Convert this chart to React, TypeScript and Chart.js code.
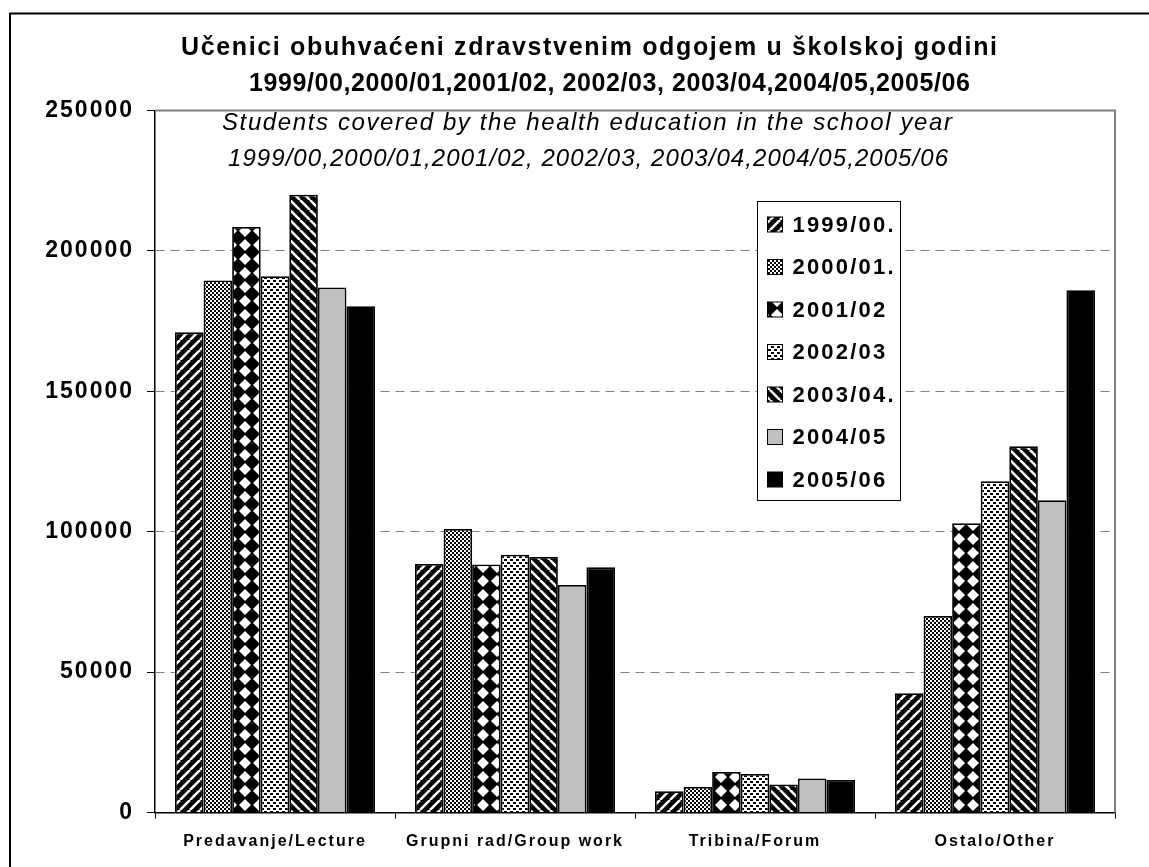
import { useEffect, useRef } from "react";
import { Chart, registerables } from "chart.js";

Chart.register(...registerables);

const categories = ["Predavanje/Lecture", "Grupni rad/Group work", "Tribina/Forum", "Ostalo/Other"];
const seriesLabels = ["1999/00.", "2000/01.", "2001/02", "2002/03", "2003/04.", "2004/05", "2005/06"];
const s1999 = [171000, 88500, 7600, 42500];
const s2000 = [189500, 101000, 9100, 70000];
const s2001 = [208500, 88300, 14400, 103000];
const s2002 = [191000, 91800, 13700, 118000];
const s2003 = [220000, 91000, 10000, 130400];
const s2004 = [187000, 81000, 12100, 111200];
const s2005 = [180300, 87300, 11600, 186000];
const seriesValues = [s1999, s2000, s2001, s2002, s2003, s2004, s2005];
const yMin = 0;
const yMax = 250000;
const yStep = 50000;

const titleLines = [
  "Učenici obuhvaćeni zdravstvenim odgojem u školskoj godini",
  "1999/00,2000/01,2001/02, 2002/03, 2003/04,2004/05,2005/06",
];
const subtitleLines = [
  "Students covered by the health education in the school year",
  "1999/00,2000/01,2001/02, 2002/03, 2003/04,2004/05,2005/06",
];

const FONT = '"Liberation Sans", Arial, sans-serif';

function tile(w: number, h: number, draw: (x: CanvasRenderingContext2D) => void) {
  const c = document.createElement("canvas");
  c.width = w;
  c.height = h;
  const x = c.getContext("2d")!;
  draw(x);
  return c;
}

function makePatterns(ctx: CanvasRenderingContext2D): (CanvasPattern | string)[] {
  const up = tile(10, 10, (x) => {
    x.fillStyle = "#000";
    x.fillRect(0, 0, 10, 10);
    x.strokeStyle = "#fff";
    x.lineWidth = 2.6;
    for (const o of [-10, 0, 10]) {
      x.beginPath();
      x.moveTo(o, 10);
      x.lineTo(o + 10, 0);
      x.stroke();
    }
  });
  const checker = tile(4, 4, (x) => {
    x.fillStyle = "#fff";
    x.fillRect(0, 0, 4, 4);
    x.fillStyle = "#000";
    x.fillRect(0, 0, 2, 2);
    x.fillRect(2, 2, 2, 2);
  });
  const diamond = tile(14, 14, (x) => {
    x.fillStyle = "#000";
    x.fillRect(0, 0, 14, 14);
    x.fillStyle = "#fff";
    x.beginPath();
    x.moveTo(7, 1);
    x.lineTo(13, 7);
    x.lineTo(7, 13);
    x.lineTo(1, 7);
    x.closePath();
    x.fill();
  });
  const dashes = tile(6, 6, (x) => {
    x.fillStyle = "#fff";
    x.fillRect(0, 0, 6, 6);
    x.fillStyle = "#000";
    x.fillRect(0, 1, 3, 2);
    x.fillRect(3, 4, 3, 2);
  });
  const down = tile(10, 10, (x) => {
    x.fillStyle = "#000";
    x.fillRect(0, 0, 10, 10);
    x.strokeStyle = "#fff";
    x.lineWidth = 2.6;
    for (const o of [-10, 0, 10]) {
      x.beginPath();
      x.moveTo(o, 0);
      x.lineTo(o + 10, 10);
      x.stroke();
    }
  });
  return [
    ctx.createPattern(up, "repeat")!,
    ctx.createPattern(checker, "repeat")!,
    ctx.createPattern(diamond, "repeat")!,
    ctx.createPattern(dashes, "repeat")!,
    ctx.createPattern(down, "repeat")!,
    "#C0C0C0",
    "#000000",
  ];
}

function fitText(
  ctx: CanvasRenderingContext2D,
  text: string,
  left: number,
  right: number,
  cy: number,
  font: string
) {
  ctx.font = font;
  (ctx as any).letterSpacing = "0px";
  const w = ctx.measureText(text).width;
  const n = [...text].length;
  const sp = Math.max(0, (right - left - w) / (n - 1));
  (ctx as any).letterSpacing = sp + "px";
  ctx.textAlign = "left";
  ctx.textBaseline = "middle";
  ctx.fillStyle = "#000";
  ctx.fillText(text, left, cy);
}

const decorPlugin = {
  id: "decor",
  beforeDraw(chart: any) {
    const ctx = chart.ctx as CanvasRenderingContext2D;
    ctx.save();
    ctx.fillStyle = "#fff";
    ctx.fillRect(0, 0, chart.width, chart.height);
    ctx.restore();
    (ctx as any).letterSpacing = "2px";
  },
  beforeDatasetsDraw(chart: any) {
    const ctx = chart.ctx as CanvasRenderingContext2D;
    const a = chart.chartArea;
    ctx.save();
    ctx.setLineDash([]);
    ctx.strokeStyle = "#808080";
    ctx.lineWidth = 2;
    ctx.beginPath();
    ctx.moveTo(a.left, a.top);
    ctx.lineTo(a.right, a.top);
    ctx.lineTo(a.right, a.bottom);
    ctx.stroke();
    ctx.restore();
  },
  afterDatasetsDraw(chart: any) {
    const ctx = chart.ctx as CanvasRenderingContext2D;
    ctx.save();
    ctx.setLineDash([]);
    const bx = 757.5, by = 201.5, bw = 143, bh = 299;
    ctx.fillStyle = "#fff";
    ctx.fillRect(bx, by, bw, bh);
    ctx.strokeStyle = "#000";
    ctx.lineWidth = 1;
    ctx.strokeRect(bx, by, bw, bh);
    chart.data.datasets.forEach((ds: any, i: number) => {
      const cy = 224.5 + i * 42.5;
      ctx.fillStyle = ds.backgroundColor;
      ctx.fillRect(767.5, cy - 7.5, 15, 15);
      ctx.strokeStyle = "#000";
      ctx.lineWidth = 1;
      ctx.strokeRect(767.5, cy - 7.5, 15, 15);
      ctx.fillStyle = "#000";
      ctx.font = `bold 22px ${FONT}`;
      (ctx as any).letterSpacing = "2.2px";
      ctx.textAlign = "left";
      ctx.textBaseline = "middle";
      ctx.fillText(ds.label, 792.5, cy + 1);
    });
    ctx.restore();
    (ctx as any).letterSpacing = "2px";
  },
  afterDraw(chart: any) {
    const ctx = chart.ctx as CanvasRenderingContext2D;
    ctx.save();
    fitText(ctx, titleLines[0], 181, 997, 48, `bold 25px ${FONT}`);
    fitText(ctx, titleLines[1], 249, 970, 84, `bold 25px ${FONT}`);
    fitText(ctx, subtitleLines[0], 222, 952, 123, `italic 24px ${FONT}`);
    fitText(ctx, subtitleLines[1], 228, 948, 159, `italic 24px ${FONT}`);
    ctx.setLineDash([]);
    ctx.strokeStyle = "#000";
    ctx.lineWidth = 2;
    ctx.strokeRect(10, 13.5, 1200, 900);
    ctx.restore();
  },
};

export default function App() {
  const ref = useRef<HTMLCanvasElement>(null);
  useEffect(() => {
    const canvas = ref.current!;
    const ctx = canvas.getContext("2d")!;
    const fills = makePatterns(ctx);
    const chart = new Chart(canvas, {
      type: "bar",
      data: {
        labels: categories,
        datasets: seriesValues.map((vals, i) => ({
          label: seriesLabels[i],
          data: vals,
          backgroundColor: fills[i] as any,
          borderColor: "#000",
          borderWidth: 1.8,
          categoryPercentage: 200 / 240,
          barPercentage: 1,
        })),
      },
      options: {
        responsive: false,
        animation: false,
        events: [],
        layout: { padding: { top: 110.5, right: 34, left: 0, bottom: 0 } },
        plugins: {
          legend: { display: false },
          title: { display: false },
          tooltip: { enabled: false },
        },
        scales: {
          x: {
            afterFit: (s: any) => {
              s.height = 54.5;
            },
            grid: {
              display: true,
              drawOnChartArea: false,
              drawTicks: true,
              tickLength: 6,
              tickColor: "#000",
              color: "#000",
              offset: true,
            },
            border: { display: true, color: "#000", width: 1.5 },
            ticks: {
              z: 1,
              autoSkip: false,
              maxRotation: 0,
              color: "#000",
              padding: 13,
              font: { family: FONT, size: 16, weight: "bold" },
            },
          },
          y: {
            min: yMin,
            max: yMax,
            afterFit: (s: any) => {
              s.width = 155;
            },
            grid: {
              color: (c: any) =>
                c.tick && (c.tick.value === yMin || c.tick.value === yMax) ? "rgba(0,0,0,0)" : "#808080",
              tickColor: "#000",
              tickLength: 8,
              tickBorderDash: [1, 0],
              lineWidth: 1,
            },
            border: { display: true, color: "#000", width: 1.5, dash: [9, 6] },
            ticks: {
              stepSize: yStep,
              color: "#000",
              padding: 13,
              font: { family: FONT, size: 23, weight: "bold" },
              callback: (v: any) => String(v),
            },
          },
        },
      },
      plugins: [decorPlugin],
    });
    return () => chart.destroy();
  }, []);
  return (
    <div style={{ position: "absolute", left: 0, top: 0, width: 1149, height: 867 }}>
      <canvas ref={ref} width={1149} height={867} style={{ display: "block", width: 1149, height: 867 }} />
    </div>
  );
}
